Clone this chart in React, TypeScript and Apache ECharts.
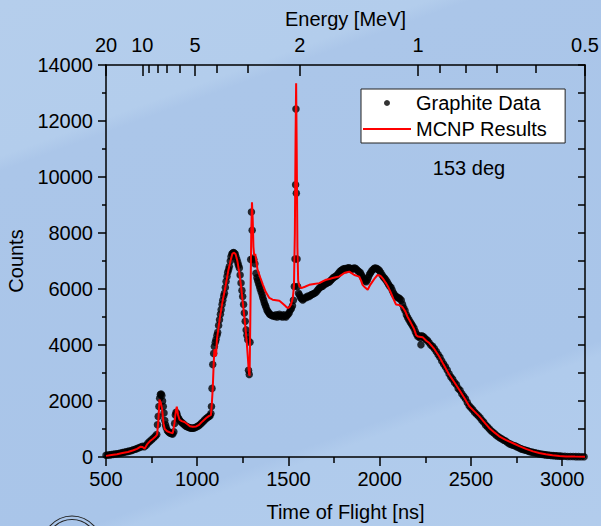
import React, { useEffect, useRef } from "react";
import * as echarts from "echarts";

// ---- Data ----
const tofData = [
  500, 510, 520, 530, 540, 550, 560, 570, 580, 590, 600, 610, 620, 630, 640, 650, 660, 670, 680, 690,
  700, 710, 720, 730, 740, 750, 760, 770, 778, 782, 786, 790, 794, 798, 802, 806, 810, 814, 818, 822,
  826, 830, 836, 842, 848, 854, 860, 866, 872, 876, 880, 884, 888, 892, 897, 903, 910, 917, 924, 931,
  938, 945, 952, 960, 968, 976, 984, 992, 1000, 1008, 1016, 1024, 1032, 1040, 1048, 1056, 1064, 1070, 1075, 1078,
  1081, 1085, 1090, 1094, 1099, 1103, 1108, 1112, 1117, 1122, 1127, 1131, 1136, 1140, 1145, 1149, 1154, 1158, 1163, 1167,
  1172, 1176, 1181, 1185, 1190, 1194, 1199, 1203, 1208, 1212, 1217, 1222, 1226, 1231, 1235, 1240, 1245, 1249, 1254, 1258,
  1263, 1268, 1272, 1277, 1281, 1285, 1289, 1293, 1297, 1301, 1305, 1310,
  1316, 1322, 1327, 1331, 1336, 1341, 1345, 1350, 1355, 1359, 1364, 1368, 1373, 1377, 1382, 1387, 1392, 1397, 1402, 1408,
  1414, 1420, 1426, 1432, 1438, 1444, 1450, 1456, 1462, 1468, 1474, 1480, 1486, 1492, 1498, 1504, 1510, 1516, 1522, 1527,
  1532, 1536, 1539, 1541, 1543, 1547, 1550,
  1555, 1560, 1566, 1572, 1578, 1585, 1592, 1600, 1607, 1614, 1621, 1628, 1635, 1642, 1651, 1658, 1665, 1672, 1680, 1687,
  1694, 1701, 1708, 1716, 1724, 1731, 1738, 1745, 1752, 1760, 1767, 1774, 1781, 1788, 1795, 1802, 1810, 1817, 1824, 1831,
  1838, 1845, 1852, 1859, 1866, 1873, 1880, 1887, 1894, 1900, 1907, 1914, 1920, 1926, 1932, 1938, 1944, 1950, 1957, 1964,
  1971, 1978, 1985, 1992, 1999, 2006, 2013, 2020, 2027, 2034, 2041, 2048, 2055, 2062, 2069, 2076, 2083, 2090, 2097, 2104,
  2110, 2118, 2125, 2132, 2139, 2146, 2153, 2160, 2167, 2174, 2181, 2188, 2195, 2202, 2209, 2216, 2222, 2226, 2230, 2238,
  2246, 2254, 2262, 2270, 2280, 2290, 2300, 2310, 2320, 2330, 2340, 2350, 2360, 2370, 2380, 2390, 2400, 2410, 2420, 2430,
  2440, 2450, 2460, 2470, 2480, 2490, 2500, 2510, 2520, 2530, 2540, 2550, 2560, 2570, 2580, 2590, 2600, 2610, 2620, 2630,
  2640, 2650, 2660, 2670, 2680, 2690, 2700, 2710, 2720, 2730, 2740, 2750, 2760, 2770, 2780, 2790, 2800, 2810, 2820, 2830,
  2840, 2850, 2860, 2870, 2880, 2890, 2900, 2910, 2920, 2930, 2940, 2950, 2960, 2970, 2980, 2990, 3000, 3015, 3030, 3045,
  3060, 3075, 3090, 3105, 3120,
];
const countsData = [
  60, 70, 75, 85, 95, 105, 115, 125, 140, 155, 170, 185, 200, 215, 235, 255, 275, 300, 330, 360,
  380, 365, 420, 500, 560, 620, 680, 740, 800, 1150, 1450, 1800, 2100, 2230, 2250, 2200, 2000, 1800, 1570, 1300,
  1150, 1050, 950, 900, 870, 850, 830, 820, 900, 1200, 1500, 1600, 1550, 1450, 1380, 1320, 1260, 1220, 1180, 1140,
  1100, 1080, 1060, 1040, 1030, 1030, 1040, 1060, 1090, 1120, 1160, 1210, 1260, 1320, 1370, 1410, 1450, 1470, 1550, 1800,
  2450, 3300, 3700, 3950, 4100, 4200, 4350, 4450, 4700, 4900, 5100, 5260, 5450, 5600, 5750, 5850, 6050, 6270, 6450, 6600,
  6700, 6800, 7000, 7150, 7250, 7280, 7300, 7280, 7250, 7150, 7050, 6950, 6850, 6750, 6500, 6210, 5950, 5730, 5450, 5140,
  4850, 4540, 4350, 4190, 3100, 2950, 4100, 7050, 8750, 8100, 7100, 7050,
  6900, 6560, 6400, 6300, 6200, 6100, 6000, 5900, 5800, 5700, 5600, 5500, 5420, 5350, 5250, 5200, 5150, 5100, 5080, 5060,
  5040, 5050, 5020, 5080, 5000, 5050, 5100, 5020, 5050, 5000, 5080, 5030, 5000, 5060, 5100, 5150, 5250, 5300, 5400, 5600,
  6090, 7070, 9720, 12430, 9420, 7070, 6090,
  5850, 5790, 5700, 5650, 5610, 5650, 5700, 5700, 5750, 5730, 5780, 5800, 5820, 5850, 5880, 5950, 6000, 6050, 6080, 6100,
  6150, 6180, 6200, 6230, 6250, 6300, 6350, 6400, 6430, 6460, 6500, 6560, 6620, 6660, 6690, 6720, 6730, 6700, 6750, 6760,
  6740, 6700, 6720, 6750, 6740, 6700, 6650, 6620, 6580, 6500, 6420, 6350, 6290, 6260, 6320, 6420, 6520, 6580, 6650, 6700,
  6740, 6750, 6720, 6700, 6650, 6580, 6500, 6430, 6380, 6320, 6250, 6170, 6100, 6050, 5950, 5850, 5780, 5730, 5700, 5680,
  5650, 5600, 5450, 5320, 5220, 5080, 4980, 4900, 4820, 4750, 4680, 4600, 4480, 4380, 4300, 4320, 4250, 4010, 4330, 4300,
  4250, 4200, 4160, 4090, 4000, 3950, 3870, 3770, 3660, 3560, 3430, 3320, 3220, 3110, 2970, 2860, 2780, 2660, 2590, 2450,
  2380, 2260, 2170, 2080, 1950, 1830, 1760, 1690, 1600, 1540, 1470, 1400, 1310, 1240, 1140, 1080, 1010, 940, 880, 830,
  770, 720, 680, 640, 600, 570, 520, 470, 450, 420, 400, 370, 340, 300, 280, 260, 240, 220, 195, 180,
  165, 150, 135, 120, 105, 95, 85, 75, 68, 60, 55, 50, 45, 40, 35, 30, 28, 24, 20, 18,
  15, 13, 12, 10, 10,
];

const tofMcnp = [
  500, 530, 560, 590, 620, 650, 670, 690, 700, 712, 725, 740, 756, 770, 780, 787, 793, 800, 808, 815,
  822, 835, 850, 866, 875, 882, 888, 895, 903, 915, 930, 945, 960, 975, 994, 1010, 1030, 1049, 1065, 1075,
  1080, 1085, 1090, 1094, 1100, 1103, 1108, 1115, 1125, 1140, 1155, 1170, 1182, 1192, 1200, 1210, 1220, 1230, 1240, 1250,
  1260, 1270, 1278, 1283, 1287, 1291, 1296, 1300, 1304, 1308, 1312, 1318, 1324, 1330, 1345, 1360, 1375, 1395, 1413, 1432,
  1450, 1468, 1485, 1496, 1505, 1514, 1524, 1530, 1535, 1539, 1542, 1545, 1549, 1553, 1560, 1570, 1590, 1614, 1640, 1669,
  1690, 1706, 1725, 1742, 1760, 1779, 1795, 1806, 1820, 1833, 1848, 1861, 1875, 1888, 1898, 1906, 1920, 1934, 1948, 1961,
  1975, 1988, 2000, 2007, 2020, 2034, 2048, 2062, 2075, 2089, 2107, 2125, 2140, 2153, 2170, 2189, 2200, 2210, 2235, 2255,
  2272, 2300, 2326, 2350, 2381, 2410, 2436, 2465, 2491, 2520, 2546, 2575, 2600, 2630, 2655, 2690, 2728, 2765, 2801, 2840,
  2874, 2910, 2947, 2985, 3020, 3070, 3125,
];
const countsMcnp = [
  40, 70, 100, 140, 180, 240, 290, 370, 360, 300, 450, 560, 640, 720, 800, 1300, 2050, 1950, 1700, 1200,
  1000, 920, 880, 850, 1200, 1600, 1800, 1500, 1330, 1280, 1250, 1180, 1100, 1080, 1090, 1150, 1280, 1390, 1470, 1500,
  1900, 2450, 3300, 3850, 3700, 3600, 4200, 4550, 5020, 5600, 6100, 6650, 7000, 7250, 7300, 7250, 7000, 6600, 6100, 5500,
  4900, 4200, 3500, 3000, 2900, 5000, 8000, 9100, 8500, 7500, 7200, 7250, 7000, 6700, 6420, 6150, 5900, 5680, 5620, 5600,
  5580, 5480, 5380, 5320, 5350, 5450, 5700, 6100, 8000, 11500, 13350, 11000, 7500, 6300, 6100, 6030, 6080, 6150, 6180, 6210,
  6280, 6330, 6360, 6390, 6420, 6450, 6520, 6570, 6600, 6620, 6560, 6500, 6470, 6440, 6300, 6150, 6050, 5970, 6150, 6270,
  6400, 6500, 6480, 6450, 6350, 6210, 6050, 5850, 5650, 5450, 5430, 5350, 5200, 5000, 4800, 4560, 4350, 4300, 4280, 4150,
  4070, 3850, 3590, 3300, 2940, 2660, 2400, 2100, 1810, 1620, 1450, 1230, 1040, 870, 740, 610, 500, 390, 290, 200,
  145, 95, 60, 35, 22, 14, 10,
];

// Axis ticks
const X_MIN = 500;
const X_MAX = 3125;
const tofMajorTicks = [500, 1000, 1500, 2000, 2500, 3000];
const tofMinorTicks = [750, 1250, 1750, 2250, 2750];
// Neutron energy (MeV) ticks on the top axis; t = ENERGY_CONST / sqrt(E)
const ENERGY_CONST = 2210;
const energyMajor = [20, 10, 5, 2, 1, 0.5];
const energyMajorLabels = ["20", "10", "5", "2", "1", "0.5"];
const energyMinor = [9, 8, 7, 6, 4, 3, 0.9, 0.8, 0.7, 0.6];

const FONT = "'Liberation Sans', Arial, Helvetica, sans-serif";
const eToT = (e: number) => Math.min(X_MAX, Math.max(X_MIN, ENERGY_CONST / Math.sqrt(e)));

export default function App() {
  const ref = useRef<HTMLDivElement>(null);

  useEffect(() => {
    if (!ref.current) return;
    const chart = echarts.init(ref.current, null, { renderer: "svg" });
    const axisLine = { color: "#000", width: 1.5 };
    const energyMajorT = energyMajor.map(eToT);
    const energyMinorT = energyMinor.map(eToT);
    const labelStyle = { fontSize: 20, color: "#000", fontFamily: FONT };
    const plain = (v: number) => String(v);

    const option: any = {
      animation: false,
      textStyle: { fontFamily: FONT },
      grid: { left: 106, top: 65, width: 479, height: 392, containLabel: false, outerBoundsMode: "none" },
      legend: {
        orient: "vertical",
        left: 361,
        top: 89,
        data: [
          { name: "Graphite Data", icon: "circle" },
          { name: "MCNP Results", icon: "path://M0,0H48V2H0Z" },
        ],
        itemWidth: 48,
        itemHeight: 6,
        itemGap: 6,
        backgroundColor: "#ffffff",
        borderColor: "#222",
        borderWidth: 1,
        borderRadius: 0,
        padding: [4, 18, 4, 2],
        textStyle: { fontSize: 20, color: "#000", fontFamily: FONT },
      },
      xAxis: [
        {
          type: "value",
          position: "bottom",
          min: X_MIN,
          max: X_MAX,
          axisLine: { show: true, onZero: false, lineStyle: axisLine },
          axisTick: { show: true, inside: false, length: 9, customValues: tofMajorTicks, lineStyle: axisLine },
          axisLabel: { ...labelStyle, margin: 12, customValues: tofMajorTicks, formatter: plain },
          splitLine: { show: false },
          name: "Time of Flight [ns]",
          nameLocation: "middle",
          nameGap: 45,
          nameTextStyle: labelStyle,
        },
        {
          type: "value",
          position: "bottom",
          min: X_MIN,
          max: X_MAX,
          axisLine: { show: false, onZero: false },
          axisTick: { show: true, inside: false, length: 6, customValues: tofMinorTicks, lineStyle: axisLine },
          axisLabel: { show: false },
          splitLine: { show: false },
        },
        {
          type: "value",
          position: "top",
          min: X_MIN,
          max: X_MAX,
          axisLine: { show: true, onZero: false, lineStyle: axisLine },
          axisTick: { show: true, inside: true, length: 11, customValues: energyMajorT, lineStyle: axisLine },
          axisLabel: {
            ...labelStyle,
            margin: 10,
            customValues: energyMajorT,
            formatter: (v: number) => {
              let best = 0;
              energyMajorT.forEach((t, i) => {
                if (Math.abs(t - v) < Math.abs(energyMajorT[best] - v)) best = i;
              });
              return energyMajorLabels[best];
            },
          },
          splitLine: { show: false },
          name: "Energy [MeV]",
          nameLocation: "middle",
          nameGap: 36,
          nameTextStyle: labelStyle,
        },
        {
          type: "value",
          position: "top",
          min: X_MIN,
          max: X_MAX,
          axisLine: { show: false, onZero: false },
          axisTick: { show: true, inside: true, length: 8, customValues: energyMinorT, lineStyle: axisLine },
          axisLabel: { show: false },
          splitLine: { show: false },
        },
      ],
      yAxis: [
        {
          type: "value",
          position: "left",
          min: 0,
          max: 14000,
          interval: 2000,
          axisLine: { show: true, onZero: false, lineStyle: axisLine },
          axisTick: { show: true, inside: false, length: 8, lineStyle: axisLine },
          minorTick: { show: true, splitNumber: 2, length: 4, lineStyle: axisLine },
          axisLabel: { ...labelStyle, margin: 13, formatter: plain },
          splitLine: { show: false },
          minorSplitLine: { show: false },
          name: "Counts",
          nameLocation: "middle",
          nameGap: 78,
          nameTextStyle: labelStyle,
        },
        {
          type: "value",
          position: "right",
          min: 0,
          max: 14000,
          interval: 1000,
          axisLine: { show: true, onZero: false, lineStyle: axisLine },
          axisTick: { show: true, inside: true, length: 7, lineStyle: axisLine },
          axisLabel: { show: false },
          splitLine: { show: false },
        },
      ],
      graphic: [
        {
          type: "text",
          x: 469,
          y: 168,
          style: { text: "153 deg", fontSize: 20, fontFamily: FONT, fill: "#000", align: "center", verticalAlign: "middle" },
        },
        {
          type: "ellipse",
          shape: { cx: 72, cy: 552, rx: 32, ry: 36 },
          style: { fill: "none", stroke: "#222", lineWidth: 1.2 },
        },
        {
          type: "ellipse",
          shape: { cx: 72, cy: 552, rx: 28.5, ry: 32.5 },
          style: { fill: "none", stroke: "#222", lineWidth: 1.2 },
        },
      ],
      series: [
        {
          name: "Graphite Data",
          type: "scatter",
          xAxisIndex: 0,
          yAxisIndex: 0,
          symbol: "circle",
          symbolSize: 7.5,
          itemStyle: { color: "#000" },
          data: tofData.map((t, i) => [t, countsData[i]]),
          z: 2,
        },
        {
          name: "MCNP Results",
          type: "line",
          xAxisIndex: 0,
          yAxisIndex: 0,
          symbol: "none",
          showSymbol: false,
          lineStyle: { color: "#ff0000", width: 2 },
          itemStyle: { color: "#ff0000" },
          data: tofMcnp.map((t, i) => [t, countsMcnp[i]]),
          z: 3,
        },
      ],
    };
    chart.setOption(option);
    return () => chart.dispose();
  }, []);

  return (
    <div
      ref={ref}
      style={{
        position: "fixed",
        left: 0,
        top: 0,
        width: 601,
        height: 526,
        background:
          "linear-gradient(160deg, #b5ceec 0%, #b3cdec 21%, #abc6e9 23%, #a9c5e9 75%, #b0cbec 77%, #b2ccec 100%)",
      }}
    />
  );
}
